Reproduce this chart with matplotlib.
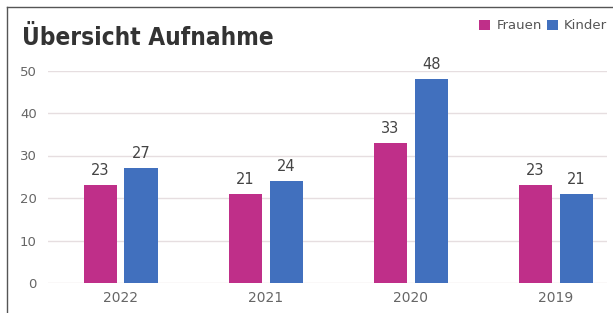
import numpy as np
import matplotlib.pyplot as plt
from matplotlib.lines import Line2D

# Aufnahmen pro Jahr
years = ["2022", "2021", "2020", "2019"]
frauen = [23, 21, 33, 23]
kinder = [27, 24, 48, 21]

pink = "#BF2F89"
blue = "#4170BE"

fig = plt.figure(figsize=(6.13, 3.13), dpi=100)
W, H = 613, 313

# plot area in pixels: left 48, right 607, bottom(0) 283, top(50) 70.5
ax = fig.add_axes([48 / W, (H - 283) / H, (607 - 48) / W, (283 - 70.5) / H])

x = np.arange(len(years))
bw = 0.228
off = 0.141
b1 = ax.bar(x - off, frauen, bw, color=pink, label="Frauen", zorder=3)
b2 = ax.bar(x + off, kinder, bw, color=blue, label="Kinder", zorder=3)

for bars, vals in ((b1, frauen), (b2, kinder)):
    for r, v in zip(bars, vals):
        ax.text(r.get_x() + r.get_width() / 2, v + 1.6, str(v), ha="center", va="bottom",
                fontsize=10.5, color="#444444")

ax.set_xlim(-0.5, (607 - 121) / 145)
ax.set_ylim(0, 50)
ax.set_yticks([0, 10, 20, 30, 40, 50])
ax.set_xticks(x)
ax.set_xticklabels(years)
ax.grid(axis="y", color="#E6DEE0", linewidth=1, zorder=0)
ax.tick_params(axis="both", length=0, labelsize=9.5, colors="#666666", pad=8)
ax.tick_params(axis="x", pad=6, labelsize=10)
for s in ax.spines.values():
    s.set_visible(False)

# title and legend
fig.text(22 / W, 1 - 45 / H, "Übersicht Aufnahme", fontsize=17.5, fontweight="bold",
         color="#333333", family="DejaVu Sans", stretch="condensed")
fig.legend(handles=[b1, b2], loc="upper left", bbox_to_anchor=(474 / W, 1 - 14 / H),
           ncol=2, frameon=False, fontsize=9.5, handlelength=0.8, handleheight=0.8,
           handletextpad=0.5, columnspacing=0.4, labelcolor="#555555", borderaxespad=0)

# frame lines of the original graphic
fig.add_artist(Line2D([7 / W, 7 / W], [0, 1 - 7 / H], color="#555555", lw=1))
fig.add_artist(Line2D([7 / W, 1], [1 - 7 / H, 1 - 7 / H], color="#555555", lw=1))

fig.savefig("out.png", dpi=100)
